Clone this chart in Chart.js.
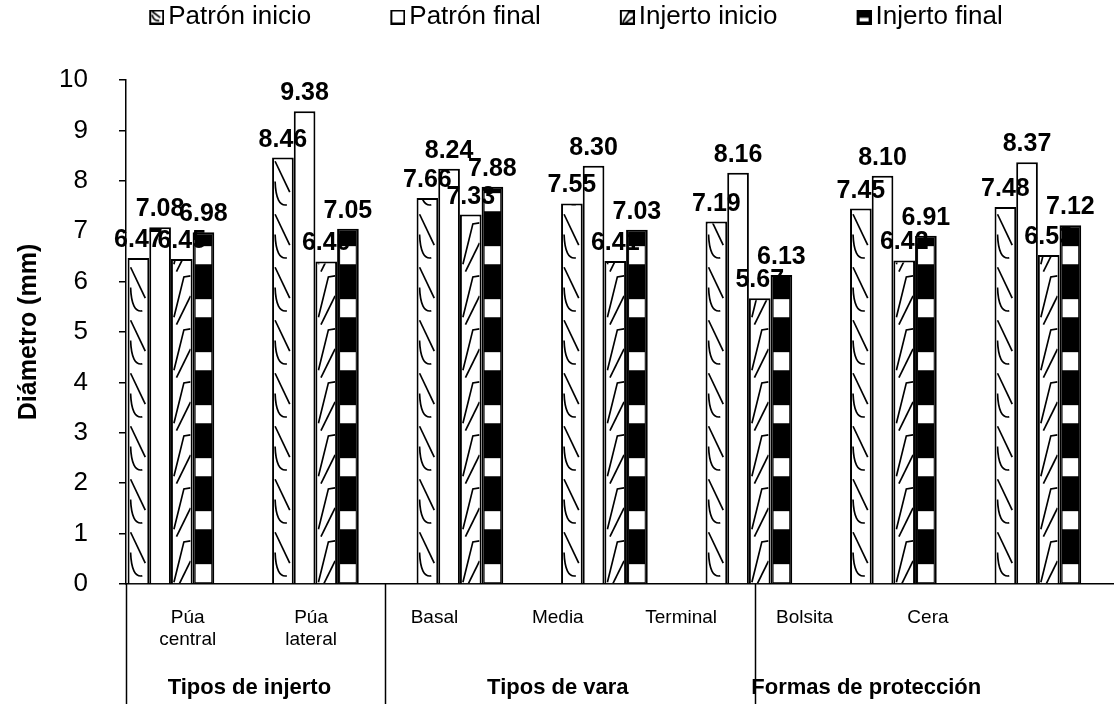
<!DOCTYPE html>
<html>
<head>
<meta charset="utf-8">
<script src="https://cdn.jsdelivr.net/npm/chart.js@4.4.0/dist/chart.umd.min.js"></script>
<style>
  html, body { margin: 0; padding: 0; background: #ffffff; }
  #wrap { width: 1116px; height: 704px; }
</style>
</head>
<body>
<div id="wrap"><canvas id="c" width="1116" height="704"></canvas></div>
<script>
// ---- data ----
const categories = [['Púa', 'central'], ['Púa', 'lateral'], 'Basal', 'Media', 'Terminal', 'Bolsita', 'Cera'];
const groups = ['Tipos de injerto', 'Tipos de vara', 'Formas de protección'];
const groupSizes = [2, 3, 2];
const seriesNames = ['Patrón inicio', 'Patrón final', 'Injerto inicio', 'Injerto final'];
const patronInicio = [6.47, 8.46, 7.66, 7.55, 7.19, 7.45, 7.48];
const patronFinal = [7.08, 9.38, 8.24, 8.30, 8.16, 8.10, 8.37];
const injertoInicio = [6.45, 6.40, 7.33, 6.41, 5.67, 6.42, 6.53];
const injertoFinal = [6.98, 7.05, 7.88, 7.03, 6.13, 6.91, 7.12];
const yTickValues = [0, 1, 2, 3, 4, 5, 6, 7, 8, 9, 10];

const FONT = "'Liberation Sans', Arial, sans-serif";
const HATCH = 53; // vertical repeat of the fill motifs, px

// ---- fill motifs, one per series (drawn inside each bar, repeating upward from the base) ----
function motifPatronInicio(ctx, l, r, base, top, P) {
  ctx.lineWidth = 1.7;
  const w = r - l;
  for (let t = base - P; t > top - P; t -= P) {
    ctx.beginPath();
    ctx.moveTo(l + 1, t + 2);
    ctx.lineTo(r - 2, t + P * 0.62);
    ctx.stroke();
    ctx.beginPath();
    ctx.moveTo(l + 1, t + P * 0.42);
    ctx.quadraticCurveTo(l + 2, t + P * 0.9, l + w * 0.72, t + P * 0.86);
    ctx.stroke();
  }
}
function motifPatronFinal() {}
function motifInjertoInicio(ctx, l, r, base, top, P) {
  ctx.lineWidth = 1.7;
  const w = r - l;
  for (let t = base - P; t > top - P; t -= P) {
    ctx.beginPath();
    ctx.moveTo(l + 1, t + P * 0.98);
    ctx.lineTo(l + w * 0.62, t + P * 0.22);
    ctx.lineTo(r, t + P * 0.2);
    ctx.stroke();
    ctx.beginPath();
    ctx.moveTo(l + w * 0.2, t + P * 1.12);
    ctx.lineTo(r, t + P * 0.58);
    ctx.stroke();
  }
}
function motifInjertoFinal(ctx, l, r, base, top, P) {
  ctx.fillStyle = '#ffffff';
  for (let t = base - P; t > top - P; t -= P) {
    const y0 = t + P * 0.64;
    const y1 = Math.min(t + P - 1, base);
    ctx.fillRect(l + 1, y0, (r - l) - 2, y1 - y0);
  }
}
const motifs = [motifPatronInicio, motifPatronFinal, motifInjertoInicio, motifInjertoFinal];
const fills = ['#ffffff', '#ffffff', '#ffffff', '#000000'];

// legend swatches: the icon sits at the right end of a wider transparent canvas,
// which spaces the legend entries apart
const SW_PAD = 81;   // legend pointStyleWidth
const SW_OVER = 9;   // how far the icon reaches past that width, toward its text
const LEGEND_SHIFT = -18;
function swatch(i) {
  const c = document.createElement('canvas');
  c.width = SW_PAD + 2 * SW_OVER; c.height = 15;
  const g = c.getContext('2d');
  const x0 = c.width - 15;
  g.fillStyle = fills[i];
  g.fillRect(x0, 0, 15, 15);
  g.save();
  g.beginPath(); g.rect(x0 + 2, 2, 11, 11); g.clip();
  g.strokeStyle = '#000';
  motifs[i](g, x0 + 2, x0 + 13, 13, 2, 13);
  g.restore();
  g.strokeStyle = '#000';
  g.lineWidth = 2;
  g.strokeRect(x0 + 1, 1, 13, 13);
  return c;
}

const seriesValues = [patronInicio, patronFinal, injertoInicio, injertoFinal];
const datasets = seriesNames.map((name, i) => ({
  label: name,
  data: seriesValues[i].map((v, k) => ({ x: k, y: v })),
  backgroundColor: fills[i],
  borderColor: '#000000',
  borderWidth: 2,
  borderSkipped: 'start',
  categoryPercentage: 0.6,
  barPercentage: 1.0,
  pointStyle: swatch(i),
  xAxisID: 'x'
}));

// draws fill motifs inside bars, then the value labels above them
const barDecor = {
  id: 'barDecor',
  afterDatasetsDraw(chart) {
    const ctx = chart.ctx;
    chart.data.datasets.forEach((ds, di) => {
      const meta = chart.getDatasetMeta(di);
      meta.data.forEach((el) => {
        const { x, y, base, width } = el.getProps(['x', 'y', 'base', 'width'], true);
        const l = x - width / 2 + 2, r = x + width / 2 - 2;
        ctx.save();
        ctx.beginPath();
        ctx.rect(l, y + 2, r - l, base - y - 2);
        ctx.clip();
        ctx.strokeStyle = '#000';
        motifs[di](ctx, l, r, base, y, HATCH);
        ctx.restore();
      });
    });
    ctx.save();
    ctx.fillStyle = '#000';
    ctx.font = 'bold 25px ' + FONT;
    ctx.textAlign = 'center';
    ctx.textBaseline = 'alphabetic';
    chart.data.datasets.forEach((ds, di) => {
      const meta = chart.getDatasetMeta(di);
      meta.data.forEach((el, k) => {
        const { x, y } = el.getProps(['x', 'y'], true);
        ctx.fillText(ds.data[k].y.toFixed(2), x, y - 11);
      });
    });
    ctx.restore();
  }
};

// group captions and separators under the category axis
const groupAxis = {
  id: 'groupAxis',
  afterLayout(chart) {
    chart.legend.left += LEGEND_SHIFT;
    chart.legend.right += LEGEND_SHIFT;
  },
  afterDraw(chart) {
    const ctx = chart.ctx;
    const xs = chart.scales.x2;
    const area = chart.chartArea;
    const bottom = chart.height;
    ctx.save();
    ctx.strokeStyle = '#000';
    ctx.lineWidth = 1.5;
    ctx.fillStyle = '#000';
    ctx.font = 'bold 22px ' + FONT;
    ctx.textAlign = 'center';
    ctx.textBaseline = 'middle';
    let start = 0;
    const lines = [area.left];
    groups.forEach((g, gi) => {
      const end = start + groupSizes[gi] - 1;
      const cx = (xs.getPixelForValue(start) + xs.getPixelForValue(end)) / 2;
      ctx.fillText(g, cx, 688);
      if (gi < groups.length - 1) lines.push(xs.getPixelForValue(end + 0.6));
      start = end + 1;
    });
    lines.forEach((lx) => {
      ctx.beginPath();
      ctx.moveTo(Math.round(lx) + 0.5, area.bottom);
      ctx.lineTo(Math.round(lx) + 0.5, bottom);
      ctx.stroke();
    });
    ctx.restore();
  }
};

new Chart(document.getElementById('c'), {
  type: 'bar',
  data: { datasets },
  options: {
    responsive: false,
    animation: false,
    events: [],
    layout: { padding: { top: 0, right: 3, bottom: 0, left: 0 } },
    plugins: {
      legend: {
        position: 'top',
        labels: {
          usePointStyle: true,
          pointStyleWidth: SW_PAD,
          color: '#000',
          font: { family: FONT, size: 26 },
          padding: 4,
          boxHeight: 15
        }
      },
      // empty spacer between the legend row and the plot
      title: {
        display: true,
        text: '',
        weight: 500,
        font: { size: 20 },
        padding: { top: 8, bottom: 8 }
      },
      tooltip: { enabled: false }
    },
    scales: {
      x: {
        type: 'linear',
        display: false,
        offset: false,
        grid: { offset: false },
        min: -0.311,
        max: 6.52,
        afterBuildTicks(scale) { scale.ticks = categories.map((c, i) => ({ value: i })); }
      },
      x2: {
        type: 'category',
        position: 'bottom',
        labels: [...categories, ''],
        offset: true,
        grid: { display: false },
        border: { display: true, color: '#000', width: 1.5 },
        ticks: {
          color: '#000',
          font: { family: FONT, size: 19 },
          maxRotation: 0,
          autoSkip: false,
          padding: 14
        },
        afterFit(scale) { scale.height = 120; }
      },
      y: {
        min: 0,
        max: 10,
        afterBuildTicks(scale) { scale.ticks = yTickValues.map(v => ({ value: v })); },
        grid: { drawOnChartArea: false, drawTicks: true, tickLength: 7, color: '#000', lineWidth: 1.5 },
        border: { display: true, color: '#000', width: 1.5 },
        ticks: {
          color: '#000',
          font: { family: FONT, size: 26 },
          padding: 31
        },
        title: {
          display: true,
          text: 'Diámetro (mm)',
          color: '#000',
          font: { family: FONT, size: 25, weight: 'bold' },
          padding: { top: 14, bottom: 0 }
        },
        afterFit(scale) { scale.width = 126; }
      }
    }
  },
  plugins: [barDecor, groupAxis]
});
</script>
</body>
</html>
